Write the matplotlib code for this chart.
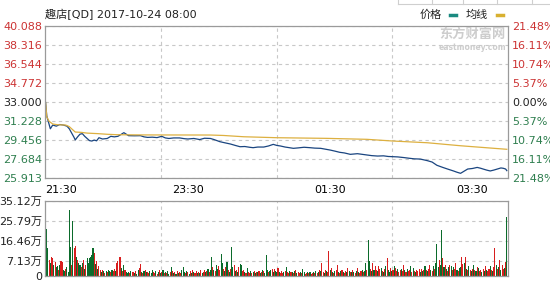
import matplotlib
matplotlib.use("Agg")
import matplotlib.pyplot as plt
from matplotlib.lines import Line2D

plt.rcParams['font.family'] = ['DejaVu Sans', 'Noto Sans CJK SC']

# --- data (minutes since 21:30 open) ---
TITLE = "趣店[QD] 2017-10-24 08:00"
PREV_CLOSE = 33.000
PRICE_TICKS = [25.913, 27.684, 29.456, 31.228, 33.000, 34.772, 36.544, 38.316, 40.088]
VOL_TICKS = [0, 7.13, 16.46, 25.79, 35.12]
VOL_LABELS = ["0", "7.13万", "16.46万", "25.79万", "35.12万"]
TIME_LABELS = ["21:30", "23:30", "01:30", "03:30"]
TIME_POS = [0, 120, 240, 360]

price_min = [0, 1, 2, 4, 6, 9, 12, 15, 18, 20, 22, 24, 25, 27, 29, 31, 33, 35, 37, 39,
             41, 43, 45, 48, 52, 55, 58, 61, 64, 66, 68, 70, 75, 80, 83, 86, 90, 94, 98, 101,
             104, 108, 113, 117, 120, 125, 130, 134, 139, 142, 145, 147, 151, 156, 160, 164, 168, 172, 175, 179,
             184, 188, 192, 195, 198, 202, 205, 209, 213, 218, 223, 227, 232, 236, 240, 244, 248, 252, 257, 263,
             267, 271, 275, 280, 285, 289, 293, 297, 302, 307, 311, 316, 322, 326, 330, 335, 339, 344, 347, 350,
             353, 356, 360, 364, 367, 369, 372, 375, 378, 381, 384, 386, 388, 389]
price = [32.95, 31.7, 31.3, 30.5, 30.85, 30.75, 30.9, 30.85, 30.75, 30.5, 30.1, 29.7, 29.46, 29.75, 30.0, 30.05, 29.8, 29.6, 29.4, 29.36,
         29.45, 29.38, 29.67, 29.55, 29.6, 29.8, 29.75, 29.8, 30.0, 30.14, 30.0, 29.86, 29.85, 29.86, 29.75, 29.7, 29.72, 29.68, 29.8, 29.65,
         29.6, 29.65, 29.65, 29.58, 29.55, 29.6, 29.5, 29.62, 29.6, 29.5, 29.38, 29.3, 29.2, 29.08, 28.95, 28.83, 28.85, 28.78, 28.74, 28.8,
         28.8, 28.9, 29.05, 28.95, 28.9, 28.8, 28.75, 28.68, 28.72, 28.78, 28.74, 28.7, 28.68, 28.6, 28.52, 28.42, 28.31, 28.25, 28.12, 28.18,
         28.12, 28.06, 28.0, 27.96, 27.98, 27.92, 27.9, 27.88, 27.82, 27.75, 27.7, 27.68, 27.53, 27.4, 27.1, 26.9, 26.75, 26.57, 26.45, 26.35,
         26.55, 26.75, 26.8, 26.9, 26.82, 26.75, 26.65, 26.57, 26.65, 26.75, 26.85, 26.82, 26.75, 26.6]

avg_min = [0, 1, 3, 6, 10, 17, 20, 23, 25, 30, 35, 44, 52, 60, 80, 139, 150, 167, 195, 237, 271, 293, 322, 350, 389]
avg = [32.95, 31.6, 31.2, 30.95, 30.88, 30.85, 30.7, 30.4, 30.2, 30.17, 30.1, 30.05, 29.99, 29.95, 29.93, 29.92, 29.88, 29.76,
       29.67, 29.61, 29.52, 29.36, 29.2, 28.92, 28.59]

# volume per minute, in 万
volume = [
    9.0, 22.2, 13.0, 7.5, 6.0, 9.0, 8.5, 5.0, 6.5, 4.0,
    4.5, 3.0, 5.0, 7.0, 6.5, 3.0, 2.5, 3.5, 4.0, 2.0,
    31.0, 13.5, 5.0, 25.9, 13.0, 14.0, 9.0, 7.5, 6.0, 5.0,
    4.0, 6.0, 7.5, 3.5, 5.0, 8.4, 6.0, 8.4, 9.0, 10.0,
    13.0, 10.8, 5.5, 7.0, 3.5, 4.5, 3.0, 2.0, 3.0, 2.5,
    1.5, 2.5, 2.0, 3.0, 2.5, 1.8, 3.0, 2.2, 3.5, 2.5,
    6.0, 7.0, 9.0, 8.7, 3.7, 2.5, 5.0, 3.0, 2.0, 1.5,
    2.0, 1.2, 2.5, 1.8, 2.0, 1.5, 2.2, 1.0, 3.0, 3.7,
    5.4, 2.0, 1.5, 2.5, 3.0, 1.8, 2.0, 1.2, 2.5, 1.5,
    3.0, 2.0, 1.5, 2.2, 1.0, 2.0, 2.8, 1.5, 2.0, 3.0,
    1.5, 2.0, 1.2, 2.5, 1.0, 1.8, 4.0, 2.2, 1.5, 2.0,
    1.0, 2.5, 1.5, 2.0, 1.2, 3.0, 4.2, 2.0, 1.5, 2.5,
    1.8, 1.0, 2.2, 1.5, 3.0, 2.0, 1.2, 2.5, 1.5, 2.0,
    1.2, 2.8, 1.5, 2.0, 3.0, 1.8, 2.5, 3.5, 2.0, 3.0,
    8.7, 4.0, 3.0, 2.5, 5.0, 3.5, 4.5, 3.0, 10.3, 6.0,
    3.5, 2.5, 4.0, 6.5, 3.0, 2.0, 3.5, 13.6, 4.0, 5.0,
    2.5, 3.0, 2.0, 4.0, 5.6, 5.0, 2.5, 3.0, 2.0, 1.5,
    3.7, 2.0, 1.5, 2.5, 1.2, 2.0, 2.5, 1.5, 2.0, 1.8,
    2.5, 1.5, 2.0, 3.0, 2.2, 1.5, 9.7, 3.0, 2.0, 2.5,
    3.0, 3.4, 2.0, 3.4, 2.5, 1.8, 3.7, 2.0, 1.5, 2.5,
    1.5, 2.0, 2.5, 4.0, 2.0, 1.5, 2.5, 1.8, 2.0, 1.2,
    2.5, 3.0, 1.5, 2.0, 1.2, 2.0, 1.5, 3.4, 2.0, 1.0,
    1.5, 2.0, 1.2, 1.8, 1.0, 1.5, 2.0, 1.2, 2.5, 1.5,
    2.0, 3.0, 2.5, 6.0, 2.0, 1.5, 3.0, 2.5, 2.0, 11.9,
    3.0, 3.7, 2.0, 1.5, 2.5, 3.0, 5.0, 2.0, 1.5, 2.5,
    3.0, 2.0, 1.5, 2.5, 2.0, 3.7, 2.5, 1.8, 2.0, 3.0,
    2.0, 1.5, 2.5, 3.7, 2.0, 1.5, 2.5, 3.0, 2.0, 2.5,
    6.0, 3.0, 17.0, 7.0, 3.5, 2.5, 6.0, 3.0, 4.5, 3.0,
    2.5, 4.5, 3.5, 3.7, 2.5, 2.0, 3.5, 4.5, 8.4, 3.0,
    2.0, 3.7, 2.5, 3.0, 4.5, 3.7, 2.5, 3.5, 2.0, 3.0,
    3.4, 2.5, 5.0, 3.0, 2.0, 3.5, 2.5, 3.0, 4.5, 2.0,
    3.7, 2.5, 2.0, 3.0, 2.5, 3.3, 2.0, 3.5, 2.5, 3.0,
    4.5, 3.0, 2.5, 3.5, 5.0, 3.0, 2.5, 4.5, 3.5, 6.0,
    15.0, 4.0, 7.6, 5.0, 21.7, 8.4, 4.0, 5.0, 3.5, 2.5,
    4.0, 5.0, 4.5, 3.0, 4.0, 3.5, 6.0, 3.0, 2.5, 3.7,
    4.0, 8.7, 5.5, 6.0, 8.7, 3.5, 3.0, 4.5, 3.0, 2.5,
    3.5, 5.0, 3.0, 2.5, 4.0, 3.7, 2.5, 3.0, 2.0, 3.5,
    2.5, 4.5, 3.0, 2.5, 3.5, 4.5, 3.0, 2.5, 4.0, 13.0,
    5.0, 3.5, 4.0, 7.6, 3.0, 5.0, 3.5, 3.7, 6.5, 27.6,
]
# r = up minute, g = down minute
vol_dir = ("gggrgrrgrg" "grgrrggrgg" "ggrgrrgrgg" "rgrgrggggg" "grgrgrrgrg"
           "rgrggrgrrg" "rrrrgrgrgg" "grgrrgrggr" "rgrgrgrrgg" "grrgrgrgrg"
           "rgrggrgrgr" "grgrrgggrg" "rgrgrgrrgr" "grgrrgrgrg" "grgrggrrgg"
           "rgrgrgrggr" "grgrggrrgr" "grrgrgrgrg" "rgrgrgggrg" "grgrggrgrr"
           "rgrgrrgrgr" "grgrrgrggr" "rgrgrrgrgr" "grgrrgrgrr" "grgrgrrgrg"
           "rgrrgrgrgr" "grgrgrrgrg" "grggrgrgrr" "grrgrgrgrg" "grgrgrrgrr"
           "grrgrgrrgr" "grgrrrgrgr" "grgrrgrgrg" "ggrggrgrgr" "grgrgrrgrg"
           "grrgrgrgrg" "rgrgrgrrgr" "grgrrgrgrr" "grgrgrrgrg")

# --- style ---
RED = "#cc3333"
GREEN = "#2f7f4f"
GRID = "#c8c8c8"
FRAME = "#9a9a9a"
PRICE_C = "#1a4580"
AVG_C = "#ddb040"
FS = 8

fig = plt.figure(figsize=(5.5, 2.85), dpi=100)
ax = fig.add_axes([45 / 550, 1 - 178 / 285, 463 / 550, 152 / 285])
axv = fig.add_axes([45 / 550, 1 - 276 / 285, 463 / 550, 75 / 285])

for a in (ax, axv):
    a.set_xlim(-0.5, 390)
    for s in a.spines.values():
        s.set_color(FRAME)
        s.set_linewidth(0.9)
    a.set_xticks([97.5, 195, 292.5], minor=True)
    a.grid(True, which="minor", axis="x", color=GRID, linestyle=(0, (3, 3)), linewidth=0.8)
    a.grid(True, which="major", axis="y", color=GRID, linestyle=(0, (3, 3)), linewidth=0.8)
    a.tick_params(which="both", length=0)
    a.set_axisbelow(True)

# price panel
ax.plot(price_min, price, color=PRICE_C, lw=0.9)
ax.plot(avg_min, avg, color=AVG_C, lw=0.9)
ax.set_ylim(PRICE_TICKS[0], PRICE_TICKS[-1])
ax.set_yticks(PRICE_TICKS)
ax.set_yticklabels([f"{p:.3f}" for p in PRICE_TICKS], fontsize=FS)
ax.tick_params(axis="y", pad=2)

# right side: change vs previous close (cut at the image edge, as in the page)
axr = ax.twinx()
axr.set_ylim(PRICE_TICKS[0], PRICE_TICKS[-1])
axr.set_yticks(PRICE_TICKS)
axr.set_yticklabels([f"{abs(p - PREV_CLOSE) / PREV_CLOSE * 100:.2f}%" for p in PRICE_TICKS], fontsize=FS)
axr.tick_params(length=0, pad=3)
for s in axr.spines.values():
    s.set_visible(False)

for lab_l, lab_r, p in zip(ax.get_yticklabels(), axr.get_yticklabels(), PRICE_TICKS):
    c = RED if p > PREV_CLOSE + 1e-6 else (GREEN if p < PREV_CLOSE - 1e-6 else "#222222")
    lab_l.set_color(c)
    lab_r.set_color(c)

ax.set_xticks(TIME_POS)
ax.set_xticklabels(TIME_LABELS, fontsize=FS)
ax.tick_params(axis="x", pad=5)
ax.get_xticklabels()[0].set_horizontalalignment("left")

# volume panel
bar_colors = ["#d81e1e" if d == "r" else "#0b6b2b" for d in vol_dir]
axv.bar(range(len(volume)), volume, width=0.9, color=bar_colors, linewidth=0)
axv.set_ylim(VOL_TICKS[0], VOL_TICKS[-1])
axv.set_yticks(VOL_TICKS)
axv.set_yticklabels(VOL_LABELS, fontsize=FS, color="#222222")
axv.tick_params(axis="y", pad=2)
axv.set_xticks([])

# title / legend / watermark
fig.text(45 / 550, 1 - 14 / 285, TITLE, fontsize=FS, va="center", ha="left", color="#222222")
fig.text(420 / 550, 1 - 15 / 285, "价格", fontsize=FS, va="center", color="#222222")
fig.add_artist(Line2D([450 / 550, 456 / 550], [1 - 15 / 285] * 2, color="#1a8a80", lw=2.5))
fig.text(466 / 550, 1 - 15 / 285, "均线", fontsize=FS, va="center", color="#222222")
fig.add_artist(Line2D([497 / 550, 503 / 550], [1 - 15 / 285] * 2, color="#d8b030", lw=2.5))
fig.text(472 / 550, 1 - 34 / 285, "东方财富网", fontsize=9.5, fontweight="bold", ha="center", va="center", color="#cdcdcd")
fig.text(472 / 550, 1 - 47 / 285, "eastmoney.com", fontsize=5.5, fontweight="bold", ha="center", va="center", color="#cdcdcd")

# fragment of page table at the top edge
fig.add_artist(Line2D([398 / 550, 1.0], [1 - 4 / 285] * 2, color="#cfcfcf", lw=0.8))
for xp in [398, 432, 463, 497, 532]:
    fig.add_artist(Line2D([xp / 550] * 2, [1 - 4 / 285, 1.0], color="#cfcfcf", lw=0.8))

fig.savefig("out.png", dpi=100, facecolor="white")
